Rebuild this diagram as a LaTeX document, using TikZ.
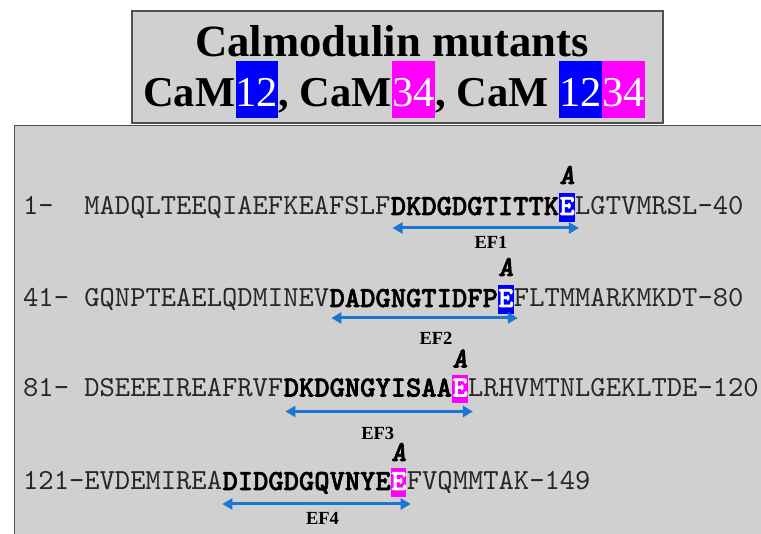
\documentclass[tikz,border=0pt]{standalone}
\usepackage{fontspec}
\setmainfont{Liberation Serif}
\newfontfamily\seqfont{lmmono10-regular.otf}
\newfontfamily\seqheavy{lmmonolt10-bold.otf}[FakeBold=2]
\newfontfamily\seqheavyit{lmmonolt10-boldoblique.otf}[FakeBold=2]
\usetikzlibrary{arrows.meta,calc}
\definecolor{boxgray}{RGB}{208,208,208}
\definecolor{boxedge}{RGB}{80,80,80}
\definecolor{mblue}{RGB}{0,0,255}
\definecolor{mmag}{RGB}{255,0,255}
\definecolor{efblue}{RGB}{25,118,210}
\tikzset{
  panel/.style={draw=boxedge, fill=boxgray, line width=1.5pt},
  titleone/.style={font=\rmfamily\bfseries\fontsize{44.7}{50}\selectfont, inner sep=0pt, anchor=base},
  titletext/.style={font=\rmfamily\bfseries\fontsize{42.5}{48}\selectfont, inner sep=0pt, anchor=base west},
  titlenum/.style={font=\rmfamily\mdseries\fontsize{42.5}{48}\selectfont, text=white, inner sep=0pt,
    text height=46.3pt, text depth=11.3pt, anchor=base west},
  seqtext/.style={font=\seqfont\fontsize{29.14}{34}\selectfont, text=black!85, inner sep=0pt, anchor=base west},
  seqbold/.style={font=\seqheavy\fontsize{29.14}{34}\selectfont, text=black, inner sep=0pt, anchor=base west},
  mutE/.style={font=\seqheavy\fontsize{29.14}{34}\selectfont, text=white, inner sep=0pt,
    text height=21.5pt, text depth=7pt, anchor=base west},
  alab/.style={font=\seqheavyit\fontsize{29.14}{34}\selectfont, inner sep=0pt, anchor=base},
  eflab/.style={font=\rmfamily\bfseries\fontsize{18.5}{22}\selectfont, inner sep=0pt, anchor=base},
  efarrow/.style={draw=efblue, line width=3pt,
    {Triangle[length=10pt,width=11pt]}-{Triangle[length=10pt,width=11pt]}}
}
\begin{document}
\begin{tikzpicture}[x=1pt,y=-1pt]
\path[use as bounding box] (0,0) rectangle (761,534);
\clip (0,0) rectangle (761,534);
% panels
\draw[panel] (132,11) rectangle (663,123);
\draw[panel] (14.5,125.5) rectangle (800,600);
% title
\node[titleone] (t1) at (392,56.7) {Calmodulin mutants};
\node[titletext] (c1) at (143,107) {CaM};
\node[titlenum, fill=mblue] (n12a) at (c1.base east) {12};
\node[titletext] (c2) at (n12a.base east) {, CaM};
\node[titlenum, fill=mmag] (n34a) at (c2.base east) {34};
\node[titletext] (c3) at (n34a.base east) {, CaM\kern0.25em};
\node[titlenum, fill=mblue] (n12b) at (c3.base east) {12};
\node[titlenum, fill=mmag] (n34b) at (n12b.base east) {34};
% line 1
\node[seqtext] (p1) at (23,215) {1-};
\node[seqtext] (s1) at (84.2,215) {MADQLTEEQIAEFKEAFSLF};
\node[seqbold] (b1) at (s1.base east) {DKDGDGTITTK};
\node[mutE, fill=mblue] (e1) at (b1.base east) {E};
\node[seqtext] (r1) at (e1.base east) {LGTVMRSL-40};
\node[alab] (a1) at ([yshift=31pt]e1.base) {A};
\draw[efarrow] ([xshift=2pt,yshift=-13pt]b1.base west) -- ([xshift=4pt,yshift=-13pt]e1.base east);
\node[eflab] (f1) at (491,249) {EF1};
% line 2
\node[seqtext] (p2) at (23,307) {41-};
\node[seqtext] (s2) at (84.2,307) {GQNPTEAELQDMINEV};
\node[seqbold] (b2) at (s2.base east) {DADGNGTIDFP};
\node[mutE, fill=mblue] (e2) at (b2.base east) {E};
\node[seqtext] (r2) at (e2.base east) {FLTMMARKMKDT-80};
\node[alab] (a2) at ([yshift=31pt]e2.base) {A};
\draw[efarrow] ([xshift=2pt,yshift=-11pt]b2.base west) -- ([xshift=4pt,yshift=-11pt]e2.base east);
\node[eflab] (f2) at (436,345) {EF2};
% line 3
\node[seqtext] (p3) at (23,396.5) {81-};
\node[seqtext] (s3) at (84.2,396.5) {DSEEEIREAFRVF};
\node[seqbold] (b3) at (s3.base east) {DKDGNGYISAA};
\node[mutE, fill=mmag] (e3) at (b3.base east) {E};
\node[seqtext] (r3) at (e3.base east) {LRHVMTNLGEKLTDE-120};
\node[alab] (a3) at ([yshift=29pt]e3.base) {A};
\draw[efarrow] ([xshift=2pt,yshift=-15pt]b3.base west) -- ([xshift=5pt,yshift=-15pt]e3.base east);
\node[eflab] (f3) at (377.7,440) {EF3};
% line 4
\node[seqtext] (p4) at (23,490) {121-};
\node[seqtext] (s4) at (84.2,490) {EVDEMIREA};
\node[seqbold] (b4) at (s4.base east) {DIDGDGQVNYE};
\node[mutE, fill=mmag] (e4) at (b4.base east) {E};
\node[seqtext] (r4) at (e4.base east) {FVQMMTAK-149};
\node[alab] (a4) at ([yshift=29pt]e4.base) {A};
\draw[efarrow] ([xshift=0pt,yshift=-14pt]b4.base west) -- ([xshift=4pt,yshift=-14pt]e4.base east);
\node[eflab] (f4) at (322.5,525) {EF4};
\end{tikzpicture}
\end{document}
